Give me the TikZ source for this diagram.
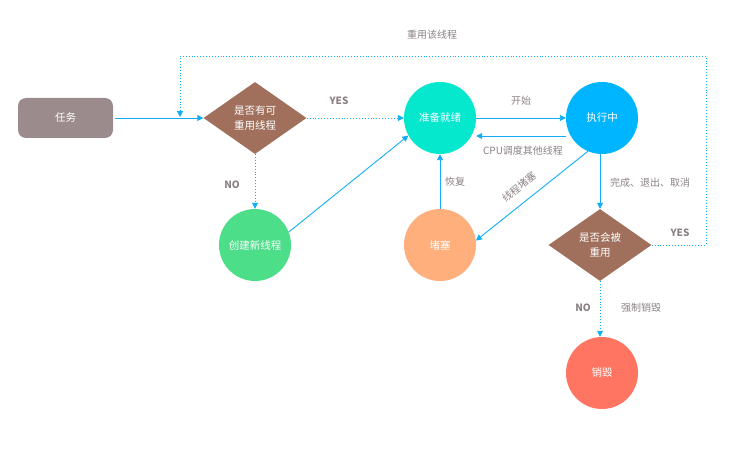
\documentclass[tikz,border=0pt]{standalone}
\usepackage{fontspec}
\setmainfont{Noto Sans CJK SC}
\usetikzlibrary{shapes.geometric,arrows.meta}
\definecolor{taskc}{HTML}{9B8B8D}
\definecolor{diac}{HTML}{A0705C}
\definecolor{readyc}{HTML}{05E8CE}
\definecolor{runc}{HTML}{00B5FF}
\definecolor{newc}{HTML}{4CDE89}
\definecolor{blockc}{HTML}{FFAF7C}
\definecolor{killc}{HTML}{FF7562}
\definecolor{linec}{HTML}{12AEF5}
\definecolor{labc}{HTML}{8C8285}
\tikzset{
  state/.style={circle,minimum size=72pt,inner sep=0pt,text=white,font=\fontsize{10.5}{12}\selectfont},
  decide/.style={diamond,aspect=1.42,minimum width=103pt,minimum height=72pt,inner sep=0pt,fill=diac,text=white,align=center,font=\fontsize{10.5}{15}\selectfont},
  flow/.style={draw=linec,line width=0.9pt,-{Triangle[width=6pt,length=6pt]}},
  dflow/.style={flow,dotted},
  lab/.style={text=labc,font=\fontsize{10}{12}\selectfont},
  blab/.style={text=labc,font=\fontsize{10}{12}\selectfont\bfseries}
}
\begin{document}
\begin{tikzpicture}[x=1pt,y=-1pt]
\useasboundingbox (0,0) rectangle (730,454);
\node[fill=taskc,rounded corners=8pt,minimum width=95pt,minimum height=40pt,text=white,font=\fontsize{10.5}{12}\selectfont] (task) at (65.5,118) {任务};
\node[decide] (reuse) at (255,118) {是否有可\\重用线程};
\node[state,fill=readyc] (ready) at (440,118) {准备就绪};
\node[state,fill=runc] (run) at (602,118) {执行中};
\node[state,fill=newc] (new) at (255,245) {创建新线程};
\node[state,fill=blockc] (block) at (440,245) {堵塞};
\node[decide] (again) at (600,245) {是否会被\\重用};
\node[state,fill=killc] (kill) at (602,373) {销毁};
\coordinate (loopa) at (706,245);
\coordinate (loopb) at (706,56);
\coordinate (loopc) at (180,56);
\coordinate (loopd) at (180,117);
% task -> reuse
\draw[flow] (task.east) ++(2,0) -- (reuse.west);
% reuse yes -> ready
\draw[dflow] (reuse.east) -- (ready.west);
\node[blab] (yes1) at (339,101) {YES};
% reuse no -> new
\draw[dflow] (reuse.south) -- (new.north);
\node[blab] (no1) at (232,185) {NO};
% new -> ready
\draw[flow] (new.21) -- (ready.209);
% ready -> run
\draw[flow] (ready.east) -- (run.west);
\node[lab] (start) at (521,101) {开始};
% run -> ready
\draw[flow] ([yshift=-18pt]run.west) -- ([yshift=-18pt]ready.east);
\node[lab] (cpu) at (523,151) {CPU调度其他线程};
% block -> ready
\draw[flow] (block.north) -- (ready.south);
\node[lab] (resume) at (455,182) {恢复};
% run -> block
\draw[flow] (run.-113) -- (block.7);
\node[lab,rotate=39,inner sep=0pt] (blk) at (519,187) {线程堵塞};
% run -> again
\draw[flow] (run.south) ++(-2,0) -- (again.north);
\node[lab] (done) at (650,183) {完成、退出、取消};
% again no -> kill
\draw[dflow] (again.south) -- (kill.north -| again.south);
\node[blab] (no2) at (583,308) {NO};
\node[lab] (force) at (641,308) {强制销毁};
% again yes -> loop back
\draw[dflow] (again.east) -- (loopa) -- (loopb) -- (loopc) -- (loopd);
\node[blab] (yes2) at (680,233) {YES};
\node[lab] (reusethis) at (432,35) {重用该线程};
\end{tikzpicture}
\end{document}
